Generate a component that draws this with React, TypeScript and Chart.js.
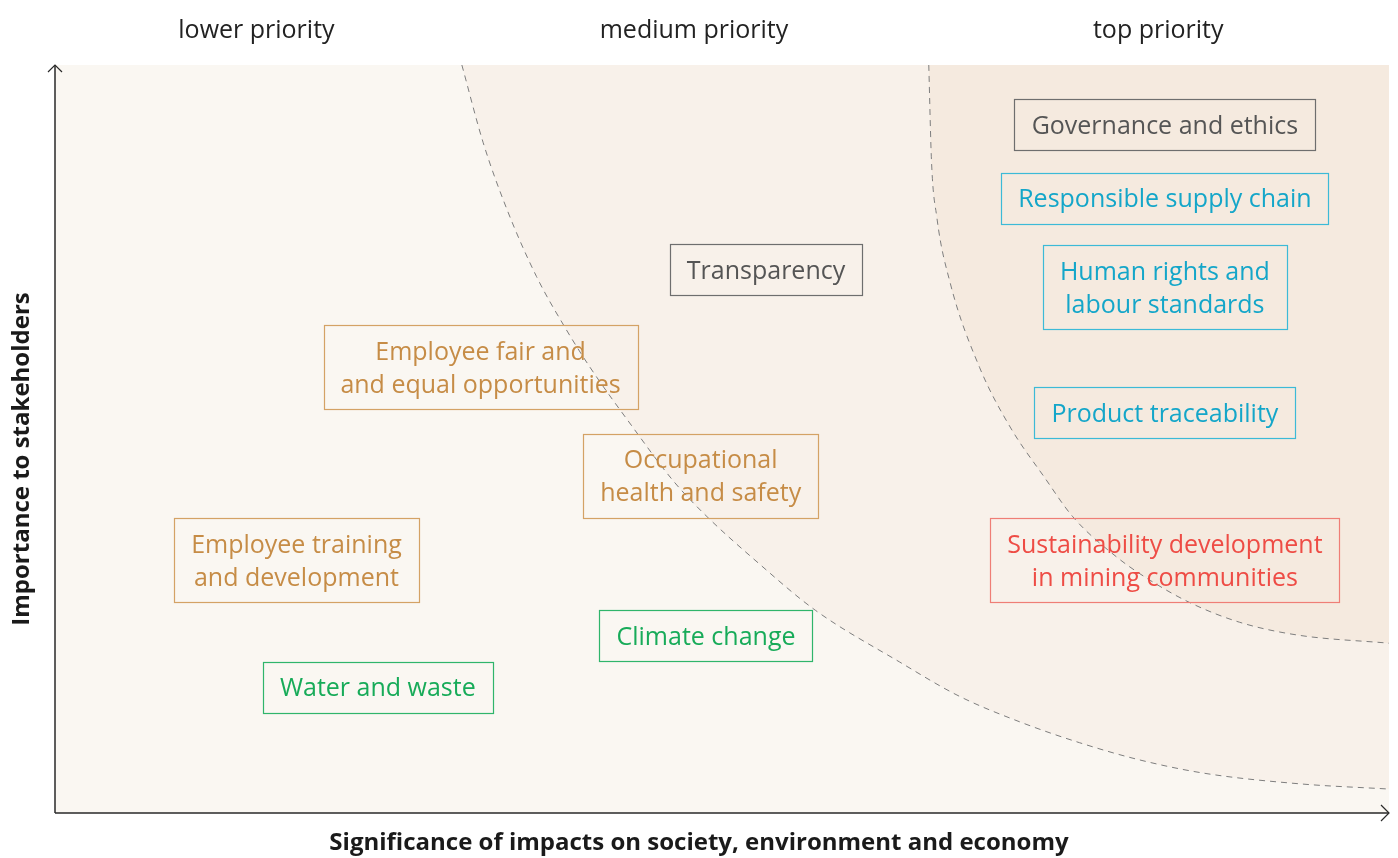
import React, { useEffect, useRef } from "react";
import { Chart, registerables } from "chart.js";

Chart.register(...registerables);

// ---- data ----
const topicNames = [
  "Governance and ethics",
  "Responsible supply chain",
  "Human rights and\nlabour standards",
  "Transparency",
  "Employee fair and\nand equal opportunities",
  "Product traceability",
  "Occupational\nhealth and safety",
  "Employee training\nand development",
  "Sustainability development\nin mining communities",
  "Climate change",
  "Water and waste",
];
const significance = [8.32, 8.32, 8.32, 5.33, 3.19, 8.32, 4.84, 1.81, 8.32, 4.88, 2.42];
const importance = [9.2, 8.22, 7.03, 7.26, 5.96, 5.35, 4.51, 3.38, 3.38, 2.37, 1.68];
const topicGroups = [
  "governance",
  "supply",
  "supply",
  "governance",
  "people",
  "supply",
  "people",
  "people",
  "community",
  "environment",
  "environment",
];

const priorityLabels = ["lower priority", "medium priority", "top priority"];
const priorityPositions = [1.51, 4.79, 8.27];

// boundary of "medium priority" zone
const outerX = [3.05, 3.21, 3.39, 3.61, 3.82, 4.01, 4.33, 4.63, 4.86, 5.28, 5.7, 6.33, 6.78, 7.23, 7.68, 8.13, 8.62, 9.33, 10.0];
const outerY = [10.0, 8.96, 8.06, 7.17, 6.5, 5.96, 5.16, 4.45, 4.01, 3.33, 2.71, 2.02, 1.56, 1.22, 0.94, 0.71, 0.53, 0.39, 0.32];
// boundary of "top priority" zone
const innerX = [6.55, 6.57, 6.61, 6.71, 6.93, 7.16, 7.42, 7.63, 7.96, 8.21, 8.51, 8.88, 9.31, 10.0];
const innerY = [10.0, 8.73, 7.97, 7.09, 5.96, 5.16, 4.48, 3.96, 3.42, 3.11, 2.81, 2.55, 2.38, 2.27];

const xTitle = "Significance of impacts on society, environment and economy";
const yTitle = "Importance to stakeholders";

// ---- styles ----
const FONT = "'Open Sans', 'Noto Sans', sans-serif";
const groupStyles: Record<string, { text: string; border: string }> = {
  governance: { text: "#555555", border: "#6e6e6e" },
  supply: { text: "#14a6c9", border: "#3cbad7" },
  people: { text: "#c68c46", border: "#d4a265" },
  community: { text: "#ee4c45", border: "#ef7e76" },
  environment: { text: "#17ab59", border: "#2fb56b" },
};
const LOW_BG = "#faf7f2";
const MID_BG = "#f8f1ea";
const TOP_BG = "#f5eadf";

const toPts = (xs: number[], ys: number[]) => xs.map((x, i) => ({ x, y: ys[i] }));

const decorPlugin = {
  id: "decor",
  beforeDatasetsDraw(chart: any) {
    const { ctx, chartArea } = chart;
    ctx.save();
    ctx.fillStyle = LOW_BG;
    ctx.fillRect(chartArea.left, chartArea.top, chartArea.right - chartArea.left, chartArea.bottom - chartArea.top);
    ctx.restore();
  },
  afterDatasetsDraw(chart: any) {
    const { ctx, chartArea, scales } = chart;
    const PAD_X = 17;
    const PAD_Y = 9;
    const LINE_H = 33;
    // topic boxes
    const meta = chart.getDatasetMeta(2);
    ctx.save();
    ctx.font = `25px ${FONT}`;
    ctx.textAlign = "center";
    ctx.textBaseline = "middle";
    meta.data.forEach((pt: any, i: number) => {
      const lines = topicNames[i].split("\n");
      const w = Math.round(Math.max(...lines.map((l) => ctx.measureText(l).width)) + 2 * PAD_X);
      const h = lines.length * LINE_H + 2 * PAD_Y;
      const st = groupStyles[topicGroups[i]];
      ctx.strokeStyle = st.border;
      ctx.lineWidth = 1.2;
      ctx.strokeRect(Math.round(pt.x - w / 2) + 0.5, Math.round(pt.y - h / 2) + 0.5, w, h);
      ctx.fillStyle = st.text;
      lines.forEach((l, j) => {
        ctx.fillText(l, pt.x, pt.y + 2 + (j - (lines.length - 1) / 2) * LINE_H);
      });
    });
    ctx.restore();

    // axes with arrows
    ctx.save();
    ctx.strokeStyle = "#2a2a2a";
    ctx.lineWidth = 1.5;
    ctx.beginPath();
    ctx.moveTo(chartArea.left, chartArea.bottom);
    ctx.lineTo(chartArea.left, chartArea.top);
    ctx.moveTo(chartArea.left, chartArea.bottom);
    ctx.lineTo(chartArea.right, chartArea.bottom);
    ctx.stroke();
    ctx.lineWidth = 1.2;
    ctx.beginPath();
    ctx.moveTo(chartArea.left - 7, chartArea.top + 7);
    ctx.lineTo(chartArea.left, chartArea.top);
    ctx.lineTo(chartArea.left + 7, chartArea.top + 7);
    ctx.moveTo(chartArea.right - 8, chartArea.bottom - 8);
    ctx.lineTo(chartArea.right, chartArea.bottom);
    ctx.lineTo(chartArea.right - 8, chartArea.bottom + 8);
    ctx.stroke();
    ctx.restore();

    // priority labels on top
    ctx.save();
    ctx.font = `25px ${FONT}`;
    ctx.fillStyle = "#222222";
    ctx.textAlign = "center";
    ctx.textBaseline = "middle";
    priorityLabels.forEach((l, i) => {
      ctx.fillText(l, scales.x.getPixelForValue(priorityPositions[i]), 31);
    });
    ctx.restore();

    // axis titles
    ctx.save();
    ctx.font = `bold 24px ${FONT}`;
    ctx.fillStyle = "#1a1a1a";
    ctx.textAlign = "center";
    ctx.textBaseline = "middle";
    ctx.fillText(xTitle, chart.width / 2, 843);
    ctx.translate(22, 459);
    ctx.rotate(-Math.PI / 2);
    ctx.fillText(yTitle, 0, 0);
    ctx.restore();
  },
};

export default function App() {
  const ref = useRef<HTMLCanvasElement | null>(null);
  useEffect(() => {
    document.body.style.margin = "0";
    const canvas = ref.current!;
    const chart = new Chart(canvas, {
      type: "line",
      data: {
        datasets: [
          {
            label: "top",
            data: toPts(innerX, innerY),
            borderColor: "#7e7e7e",
            borderWidth: 1,
            borderDash: [6, 5],
            backgroundColor: TOP_BG,
            fill: "end",
            pointRadius: 0,
            cubicInterpolationMode: "monotone",
            order: 2,
          },
          {
            label: "medium",
            data: toPts(outerX, outerY),
            borderColor: "#7e7e7e",
            borderWidth: 1,
            borderDash: [6, 5],
            backgroundColor: MID_BG,
            fill: "end",
            pointRadius: 0,
            cubicInterpolationMode: "monotone",
            order: 3,
          },
          {
            label: "topics",
            data: significance.map((x, i) => ({ x, y: importance[i] })),
            showLine: false,
            pointRadius: 0,
            order: 1,
          },
        ],
      },
      options: {
        animation: false,
        responsive: false,
        layout: { padding: { left: 55, top: 65, right: 9, bottom: 45 } },
        plugins: { legend: { display: false }, tooltip: { enabled: false } },
        scales: {
          x: { type: "linear", min: 0, max: 10, display: false },
          y: { type: "linear", min: 0, max: 10, display: false },
        },
      },
      plugins: [decorPlugin],
    });
    return () => chart.destroy();
  }, []);
  return (
    <div style={{ width: 1398, height: 858 }}>
      <canvas ref={ref} width={1398} height={858} style={{ display: "block" }} />
    </div>
  );
}
